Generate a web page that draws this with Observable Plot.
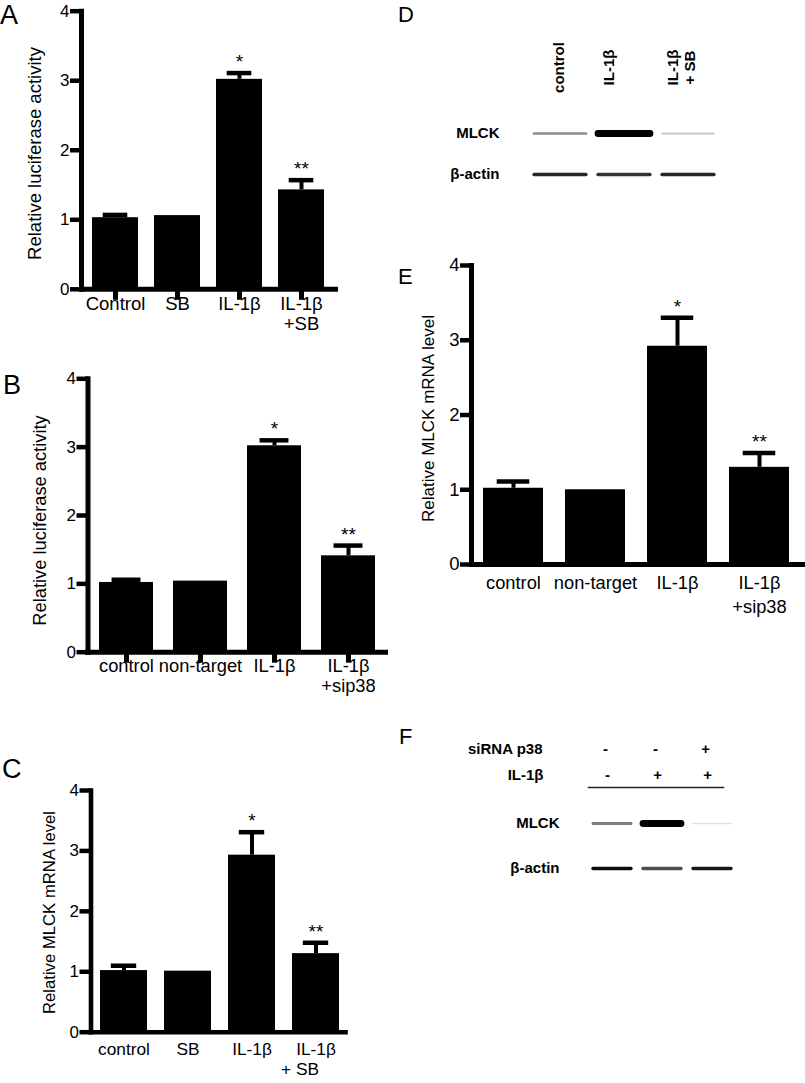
<!DOCTYPE html>
<html><head><meta charset="utf-8">
<script src="https://cdn.jsdelivr.net/npm/d3@7"></script>
<script src="https://cdn.jsdelivr.net/npm/@observablehq/plot@0.6"></script>
<style>
html,body{margin:0;padding:0;background:#fff;}
#fig{position:relative;width:805px;height:1083px;overflow:hidden;background:#fff;font-family:"Liberation Sans",Arial,Helvetica,sans-serif;color:#000;}
#fig > svg{position:absolute;}
.letter{position:absolute;font-family:"Liberation Sans",Arial,sans-serif;}
.big{font-size:27px;line-height:27px;}
.small{font-size:22px;line-height:22px;}
svg.barpanel g[aria-label="frame"] line{stroke:#000;stroke-width:5px;stroke-linecap:square;}
svg.barpanel.thin g[aria-label="frame"] line{stroke-width:4.6px;}
svg.barpanel g[aria-label="y-axis tick"] path{stroke:#000;stroke-width:4.5px;}
svg.barpanel g[aria-label="x-axis tick"] path{stroke:#000;stroke-width:5px;}
</style></head><body><div id="fig"></div>
<script>
// ---------------- DATA ----------------
const yTicks = [0, 1, 2, 3, 4];

// Panel A
const catsA = ["Control", "SB", "IL-1β", "IL-1β +SB"];
const valsA = [1.03, 1.06, 3.02, 1.43];
const errsA = [0.04, 0, 0.09, 0.14];
const starsA = ["", "", "*", "**"];
const lab1A = ["Control", "SB", "IL-1β", "IL-1β"];
const lab2A = ["", "", "", "+SB"];

// Panel B
const catsB = ["control", "non-target", "IL-1β", "IL-1β +sip38"];
const valsB = [1.02, 1.04, 3.02, 1.41];
const errsB = [0.04, 0, 0.08, 0.15];
const starsB = ["", "", "*", "**"];
const lab1B = ["control", "non-target", "IL-1β", "IL-1β"];
const lab2B = ["", "", "", "+sip38"];

// Panel C
const catsC = ["control", "SB", "IL-1β", "IL-1β + SB"];
const valsC = [1.02, 1.01, 2.93, 1.30];
const errsC = [0.08, 0, 0.38, 0.18];
const starsC = ["", "", "*", "**"];
const lab1C = ["control", "SB", "IL-1β", "IL-1β"];
const lab2C = ["", "", "", "+ SB"];

// Panel E
const catsE = ["control", "non-target", "IL-1β", "IL-1β +sip38"];
const valsE = [1.02, 1.00, 2.92, 1.30];
const errsE = [0.09, 0, 0.38, 0.19];
const starsE = ["", "", "*", "**"];
const lab1E = ["control", "non-target", "IL-1β", "IL-1β"];
const lab2E = ["", "", "", "+sip38"];

// Panel D (western blot, relative band intensity 0-1)
const lanesD = ["control", "IL-1β", "IL-1β\n+ SB"];
const proteins = ["MLCK", "β-actin"];
const mlckD = [0.45, 1.0, 0.22];
const actinD = [0.85, 0.8, 0.85];

// Panel F
const lanesF = ["lane 1", "lane 2", "lane 3"];
const sirnaF = ["-", "-", "+"];
const il1bF = ["-", "+", "+"];
const mlckF = [0.5, 1.0, 0.12];
const actinF = [0.95, 0.7, 0.9];

// ---------------- DRAW ----------------
const fig = document.getElementById("fig");
const FONT = '"Liberation Sans", Arial, Helvetica, sans-serif';

function place(svg, left, top) {
  svg.style.position = "absolute";
  svg.style.left = left + "px";
  svg.style.top = top + "px";
  fig.appendChild(svg);
}

function barPanel(c) {
  const data = c.cats.map((k, i) => ({k, v: c.vals[i], e: c.errs[i], s: c.stars[i], l1: c.lab1[i], l2: c.lab2[i]}));
  const n = c.cats.length;
  const step = (c.barsEnd - c.bw - c.barsStart) / (n - 1);
  const pi = 1 - c.bw / step;
  const inset = c.bw * 0.23;
  const withErr = data.filter(d => d.e > 0);
  const marks = [
    Plot.barY(data, {x: "k", y: "v", fill: "#000"}),
    Plot.ruleX(withErr, {x: "k", y1: "v", y2: d => d.v + d.e, stroke: "#000", strokeWidth: 4}),
    Plot.tickY(withErr, {x: "k", y: d => d.v + d.e, stroke: "#000", strokeWidth: 4.5, insetLeft: inset, insetRight: inset}),
    Plot.text(data.filter(d => d.s), {x: "k", y: d => d.v + d.e, text: "s", dy: -11, fontSize: 19}),
    Plot.frame({anchor: "left", stroke: "#000", strokeWidth: c.axisW, strokeLinecap: "square"}),
    Plot.frame({anchor: "bottom", stroke: "#000", strokeWidth: c.axisW, strokeLinecap: "square"}),
    Plot.axisY({ticks: yTicks, tickSize: 11, tickPadding: 1, stroke: "#000", strokeWidth: 4.5, fontSize: c.tickFont, label: null, tickFormat: d => String(d)}),
    Plot.text(data, {x: "k", text: "l1", frameAnchor: "bottom", dy: c.lab1Y - c.zeroY, fontSize: c.labFont}),
    Plot.text(data.filter(d => d.l2), {x: "k", text: "l2", frameAnchor: "bottom", dy: c.lab2Y - c.zeroY, dx: c.lab2Dx || 0, fontSize: c.labFont}),
    Plot.text([c.ylabel], {frameAnchor: "left", textAnchor: "middle", rotate: -90, dx: c.ylabX - c.axisX, dy: c.ylabY - (c.topY + c.zeroY) / 2, fontSize: c.ylabFont})
  ];
  if (c.xTicks) marks.push(Plot.axisX({tickSize: 11, stroke: "#000", strokeWidth: 5, tickFormat: () => "", label: null}));
  const svg = Plot.plot({
    className: "barpanel",
    width: c.width, height: c.height,
    marginLeft: c.axisX - c.left,
    marginRight: c.left + c.width - c.axisEnd,
    marginTop: c.topY - c.top,
    marginBottom: c.top + c.height - c.zeroY,
    x: {domain: c.cats, range: [c.barsStart - c.left, c.barsEnd - c.left], paddingInner: pi, paddingOuter: 0, align: 0.5, axis: c.xTicks ? undefined : null},
    y: {domain: [0, 4]},
    style: {fontFamily: FONT, color: "#000", background: "transparent", overflow: "visible"},
    marks
  });
  svg.classList.add("barpanel");
  if (c.axisW < 5) svg.classList.add("thin");
  place(svg, c.left, c.top);
}

barPanel({cats: catsA, vals: valsA, errs: errsA, stars: starsA, lab1: lab1A, lab2: lab2A,
  ylabel: "Relative luciferase activity",
  left: 0, top: 0, width: 345, height: 345, axisX: 81, axisEnd: 335, topY: 10.7, zeroY: 288.8,
  barsStart: 90, barsEnd: 325, bw: 46.5, tickFont: 17, labFont: 18.5, ylabFont: 18.5,
  ylabX: 35, ylabY: 153, lab1Y: 309, lab2Y: 329, xTicks: true, axisW: 5});

barPanel({cats: catsB, vals: valsB, errs: errsB, stars: starsB, lab1: lab1B, lab2: lab2B,
  ylabel: "Relative luciferase activity",
  left: 0, top: 360, width: 395, height: 350, axisX: 87.5, axisEnd: 385, topY: 378.3, zeroY: 651.7,
  barsStart: 97.3, barsEnd: 376.2, bw: 54.5, tickFont: 17, labFont: 18.3, ylabFont: 18.3,
  ylabX: 40, ylabY: 520, lab1Y: 671, lab2Y: 691, xTicks: true, axisW: 5});

barPanel({cats: catsC, vals: valsC, errs: errsC, stars: starsC, lab1: lab1C, lab2: lab2C,
  ylabel: "Relative MLCK mRNA level",
  left: 0, top: 770, width: 355, height: 313, axisX: 90.5, axisEnd: 345, topY: 790, zeroY: 1031.7,
  barsStart: 99, barsEnd: 340, bw: 47, tickFont: 17, labFont: 17.3, ylabFont: 16.7,
  ylabX: 49, ylabY: 912, lab1Y: 1054, lab2Y: 1074, lab2Dx: -16, xTicks: false, axisW: 4.6});

barPanel({cats: catsE, vals: valsE, errs: errsE, stars: starsE, lab1: lab1E, lab2: lab2E,
  ylabel: "Relative MLCK mRNA level",
  left: 400, top: 250, width: 405, height: 380, axisX: 471, axisEnd: 802, topY: 265, zeroY: 564,
  barsStart: 482.7, barsEnd: 789, bw: 59.7, tickFont: 18.5, labFont: 18.3, ylabFont: 17,
  ylabX: 428, ylabY: 418, lab1Y: 588, lab2Y: 612, xTicks: false, axisW: 5});

function addBlur(svg, id, sd) {
  const s = d3.select(svg);
  const f = s.append("defs").append("filter").attr("id", id)
    .attr("x", "-10%").attr("y", "-60%").attr("width", "120%").attr("height", "220%");
  f.append("feGaussianBlur").attr("stdDeviation", sd);
  s.selectAll('g[aria-label="bands"]').attr("filter", `url(#${id})`);
}

function bandData(lanes, rows) {
  const out = [];
  rows.forEach((vals, j) => lanes.forEach((l, i) => out.push({l, p: proteins[j], v: vals[i]})));
  return out;
}
const bandWidth = d => d.p === "MLCK" ? 1.6 + 5.2 * d.v * d.v : 3.4;
const boldText = {fontWeight: "bold", fontSize: 15};

// Panel D
{
  const bands = bandData(lanesD, [mlckD, actinD]);
  const svg = Plot.plot({
    width: 405, height: 200, marginLeft: 130, marginRight: 88, marginTop: 67, marginBottom: 10,
    x: {domain: lanesD, range: [130, 317], paddingInner: 0.1, paddingOuter: 0, axis: null},
    y: {type: "point", domain: proteins, range: [132.7, 174.3], padding: 0, axis: null},
    style: {fontFamily: FONT, color: "#000", background: "transparent", overflow: "visible"},
    marks: [
      Plot.tickY(bands, {x: "l", y: "p", stroke: "#000", strokeOpacity: d => d.v, strokeWidth: bandWidth, strokeLinecap: "round", insetLeft: 3, insetRight: 3, ariaLabel: "bands"}),
      Plot.text(proteins, {y: d => d, frameAnchor: "left", textAnchor: "end", dx: -31, ...boldText}),
      Plot.text(lanesD.slice(0, 1), {x: d => d, text: d => d, frameAnchor: "top", textAnchor: "middle", rotate: -90, dx: -9, lineHeight: 1.15, ...boldText}),
      Plot.text(lanesD.slice(1), {x: d => d, text: d => d, frameAnchor: "top", textAnchor: "middle", rotate: -90, dx: -23, lineHeight: 1.15, ...boldText})
    ]
  });
  addBlur(svg, "blurD", 1.2);
  place(svg, 400, 0);
}

// Panel F
{
  const bands = bandData(lanesF, [mlckF, actinF]);
  const svg = Plot.plot({
    width: 405, height: 200, marginLeft: 188, marginRight: 82, marginTop: 87, marginBottom: 10,
    x: {domain: lanesF, range: [190, 333], paddingInner: 0.17, paddingOuter: 0, axis: null},
    y: {type: "point", domain: proteins, range: [123, 168.7], padding: 0, axis: null},
    style: {fontFamily: FONT, color: "#000", background: "transparent", overflow: "visible"},
    marks: [
      Plot.frame({anchor: "top", stroke: "#222", strokeWidth: 1.6}),
      Plot.tickY(bands, {x: "l", y: "p", stroke: "#000", strokeOpacity: d => d.v, strokeWidth: bandWidth, strokeLinecap: "round", insetLeft: 2, insetRight: 2, ariaLabel: "bands"}),
      Plot.text(proteins, {y: d => d, frameAnchor: "left", textAnchor: "end", dx: -29, ...boldText}),
      Plot.text(["siRNA p38"], {frameAnchor: "top-left", textAnchor: "end", dx: -46, dy: -44, ...boldText}),
      Plot.text(["IL-1β"], {frameAnchor: "top-left", textAnchor: "end", dx: -45, dy: -18, ...boldText}),
      Plot.text(lanesF, {x: d => d, text: (d, i) => sirnaF[i], frameAnchor: "top", textAnchor: "middle", dx: -7, dy: -44, ...boldText}),
      Plot.text(lanesF, {x: d => d, text: (d, i) => il1bF[i], frameAnchor: "top", textAnchor: "middle", dx: -5, dy: -18, ...boldText})
    ]
  });
  addBlur(svg, "blurF", 1.2);
  place(svg, 400, 700);
}

// Panel letters
[["A", 0, 2, "big"], ["B", 3, 372, "big"], ["C", 2, 756, "big"],
 ["D", 398, 4, "small"], ["E", 398, 266, "small"], ["F", 399, 726, "small"]].forEach(([t, x, y, cls]) => {
  const d = document.createElement("div");
  d.className = "letter " + cls;
  d.textContent = t;
  d.style.left = x + "px";
  d.style.top = y + "px";
  fig.appendChild(d);
});
</script></body></html>
